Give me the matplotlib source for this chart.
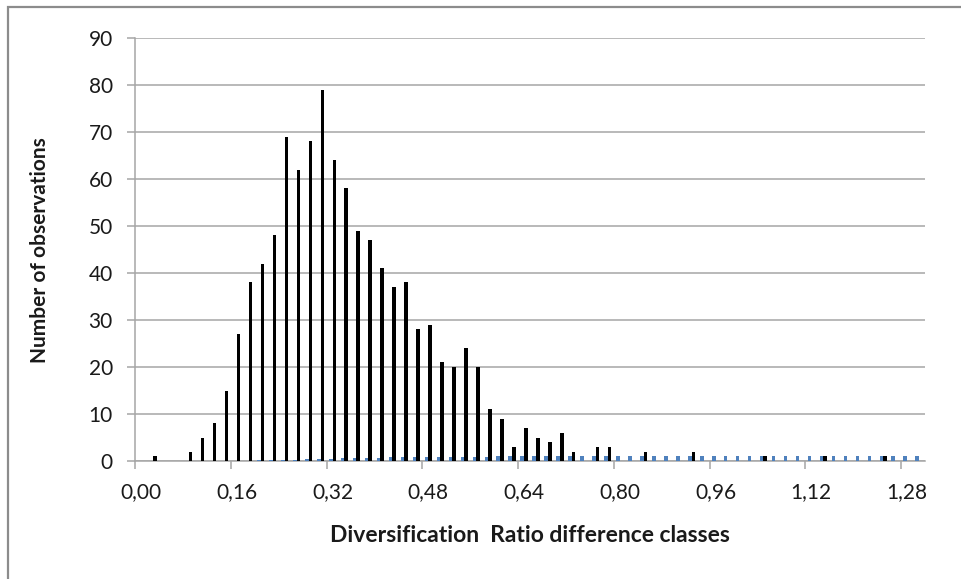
import matplotlib
matplotlib.use("Agg")
import matplotlib.pyplot as plt
from matplotlib.patches import Rectangle

plt.rcParams['font.family'] = ['Lato', 'DejaVu Sans']

# Diversification Ratio difference classes (0,00 ... 1,30 in steps of 0,02)
classes = [round(0.02 * i, 2) for i in range(66)]

# Number of observations per class (black bars)
observations = [0, 1, 0, 0, 2, 5, 8, 15, 27, 38,
                42, 48, 69, 62, 68, 79, 64, 58, 49, 47,
                41, 37, 38, 28, 29, 21, 20, 24, 20, 11,
                9, 3, 7, 5, 4, 6, 2, 0, 3, 3,
                0, 0, 2, 0, 0, 0, 2, 0, 0, 0,
                0, 0, 1, 0, 0, 0, 0, 1, 0, 0,
                0, 0, 1, 0, 0, 0]

# Cumulative share (blue bars, same axis)
cumulative = [0.000, 0.001, 0.001, 0.001, 0.003, 0.008, 0.016, 0.031, 0.058, 0.096,
              0.138, 0.186, 0.255, 0.317, 0.385, 0.464, 0.528, 0.586, 0.635, 0.682,
              0.723, 0.760, 0.798, 0.826, 0.855, 0.876, 0.896, 0.920, 0.940, 0.951,
              0.960, 0.963, 0.970, 0.975, 0.979, 0.985, 0.987, 0.987, 0.990, 0.993,
              0.993, 0.993, 0.995, 0.995, 0.995, 0.995, 0.997, 0.997, 0.997, 0.997,
              0.997, 0.997, 0.998, 0.998, 0.998, 0.998, 0.998, 0.999, 0.999, 0.999,
              0.999, 0.999, 1.000, 1.000, 1.000, 1.000]

tick_every = 8
y_ticks = list(range(0, 91, 10))

W, H = 961, 579
fig = plt.figure(figsize=(W / 100, H / 100), dpi=100)
fig.patch.set_facecolor('white')

# outer chart border
fig.add_artist(Rectangle((8 / W, -0.05), 1.1, (H - 7) / H + 0.05, transform=fig.transFigure,
                         fill=False, edgecolor='#8c8c8c', linewidth=1.6))

ax = fig.add_axes([135 / W, 1 - 461 / H, (925 - 135) / W, (461 - 38) / H])

n = len(classes)
pos = [i + 0.5 for i in range(n)]
bw = 0.3
ax.bar([p - bw / 2 for p in pos], cumulative, width=bw, color='#4F81BD', zorder=3, linewidth=0)
ax.bar([p + bw / 2 for p in pos], observations, width=bw, color='black', zorder=4, linewidth=0)

ax.set_xlim(0, n)
ax.set_ylim(0, 90)

grid_c = '#a6a6a6'
ax.set_yticks(y_ticks)
ax.yaxis.grid(True, color=grid_c, linewidth=1.1, zorder=0)
ax.set_axisbelow(True)
ax.tick_params(axis='y', length=6, width=1.1, color=grid_c, labelsize=15, pad=10,
               labelcolor='#1a1a1a')

# labels centred on categories, tick marks at category boundaries
lab_pos = [pos[i] for i in range(0, n, tick_every)]
lab_txt = [f"{classes[i]:.2f}".replace('.', ',') for i in range(0, n, tick_every)]
ax.set_xticks(lab_pos)
ax.set_xticklabels(lab_txt)
ax.tick_params(axis='x', which='major', length=0, labelsize=15, pad=15, labelcolor='#1a1a1a')
ax.set_xticks([i for i in range(0, n, tick_every)], minor=True)
ax.tick_params(axis='x', which='minor', length=6, width=1.1, color=grid_c)

for s in ['top', 'right']:
    ax.spines[s].set_visible(False)
for s in ['left', 'bottom']:
    ax.spines[s].set_color(grid_c)
    ax.spines[s].set_linewidth(1.1)

fig.text(40 / W, 1 - 250 / H, 'Number of observations', rotation=90, ha='center', va='center',
         fontsize=15, fontweight='bold', color='#1a1a1a')
fig.text(530 / W, 1 - 535 / H, 'Diversification  Ratio difference classes', ha='center',
         va='center', fontsize=16.5, fontweight='bold', color='#1a1a1a')

fig.savefig('out.png', dpi=100, facecolor='white')
